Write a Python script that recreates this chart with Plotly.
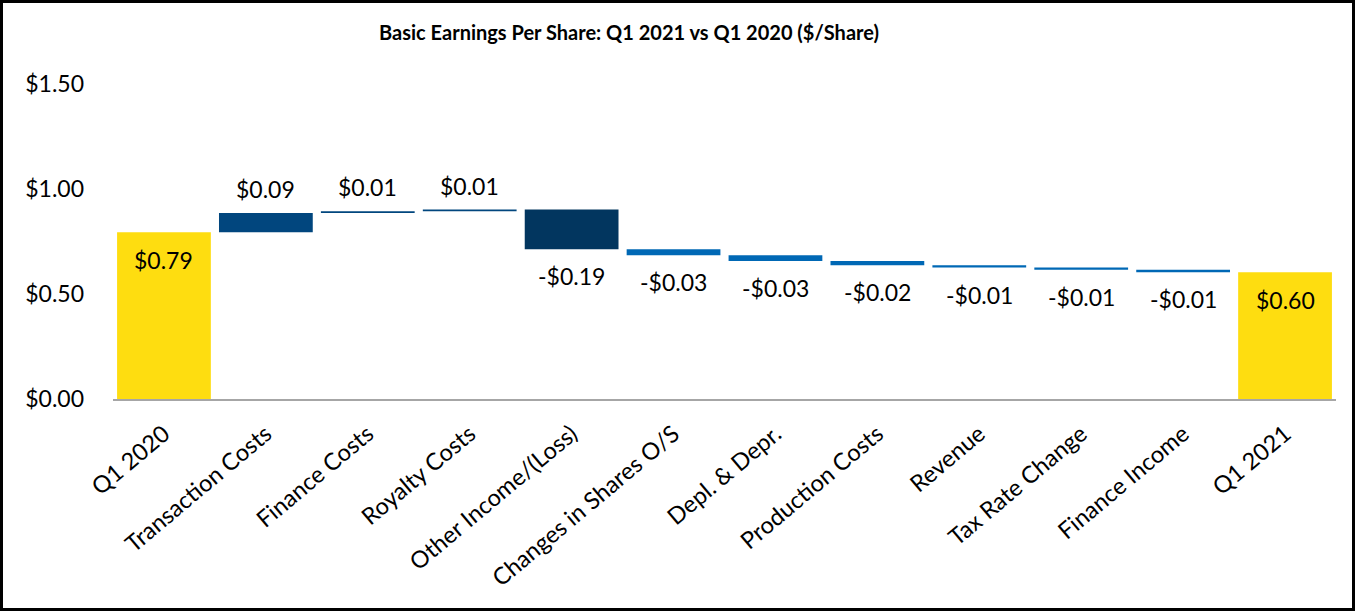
import plotly.graph_objects as go
import numpy as np

# ---- data ----
categories = ["Q1 2020", "Transaction Costs", "Finance Costs", "Royalty Costs",
              "Other Income/(Loss)", "Changes in Shares O/S", "Depl. & Depr.",
              "Production Costs", "Revenue", "Tax Rate Change", "Finance Income", "Q1 2021"]
start_eps = 0.794
deltas = [0.092, 0.008, 0.008, -0.189, -0.028, -0.028, -0.020, -0.011, -0.011, -0.011]
y_ticks = [0.0, 0.5, 1.0, 1.5]
y_tick_labels = ["$0.00", "$0.50", "$1.00", "$1.50"]

# ---- styles ----
YELLOW = "#FEDD10"
DARK = "#01467E"
NAVY = "#02365F"
LIGHT = "#0068B5"
bar_colors = [YELLOW, DARK, DARK, DARK, NAVY, LIGHT, LIGHT, LIGHT, LIGHT, LIGHT, LIGHT, YELLOW]
FONT = "Lato"

# ---- derive waterfall geometry from the data ----
levels = start_eps + np.concatenate([[0.0], np.cumsum(deltas)])
end_eps = float(levels[-1])
heights = [start_eps] + list(deltas) + [end_eps]
bases = [0.0] + list(levels[:-1]) + [0.0]
ends = [b + h for b, h in zip(bases, heights)]


def fmt(v):
    v = round(v, 2)
    return ("-$%.2f" % abs(v)) if v < 0 else ("$%.2f" % v)


fig = go.Figure(go.Bar(
    x=categories, y=heights, base=bases,
    marker=dict(color=bar_colors, line=dict(width=0)),
    hoverinfo="skip",
))

n = len(categories)
for i, (c, h, e) in enumerate(zip(categories, heights, ends)):
    if i == 0 or i == n - 1:
        ys = -28
    elif h >= 0:
        ys = 24
    else:
        ys = -27
    fig.add_annotation(x=c, y=e, text=fmt(h), showarrow=False, yanchor="middle",
                       yshift=ys, font=dict(family=FONT, size=23, color="#000000"))

W, H = 1356, 612
ml, mr, mt, mb = 113, 20, 84, 213
pw, ph = W - ml - mr, H - mt - mb


def px_x(p):
    return (p - ml) / pw


def px_y(p):
    return (H - mb - p) / ph


fig.add_shape(type="rect", xref="paper", yref="paper",
              x0=px_x(1.5), x1=px_x(W - 2.5), y0=px_y(H - 2.5), y1=px_y(1.5),
              line=dict(color="#000000", width=3), fillcolor="rgba(0,0,0,0)", layer="above")

fig.update_layout(
    width=W, height=H,
    margin=dict(l=ml, r=mr, t=mt, b=mb),
    paper_bgcolor="white", plot_bgcolor="white",
    bargap=0.08,
    showlegend=False,
    title=dict(text="<b>Basic Earnings Per Share: Q1 2021 vs Q1 2020 ($/Share)</b>",
               x=629 / W, xref="container", xanchor="center",
               y=1 - 33 / H, yref="container", yanchor="middle",
               font=dict(family=FONT, size=20, color="#000000")),
    font=dict(family=FONT, size=23, color="#000000"),
)
fig.update_xaxes(showline=True, linecolor="#A6A6A6", linewidth=2, ticks="",
                 tickangle=-40, showgrid=False, zeroline=False,
                 tickfont=dict(family=FONT, size=23.5, color="#000000"),
                 ticklabelstandoff=10)
fig.update_yaxes(range=[0, 1.5001], tickvals=y_ticks, ticktext=y_tick_labels,
                 showgrid=False, zeroline=False, showline=False, ticks="",
                 tickfont=dict(family=FONT, size=23, color="#000000"),
                 ticklabelstandoff=28)

fig.write_html("out.html", config={"displayModeBar": False, "staticPlot": True},
               post_script="document.body.style.margin='0';document.body.style.overflow='hidden';")
